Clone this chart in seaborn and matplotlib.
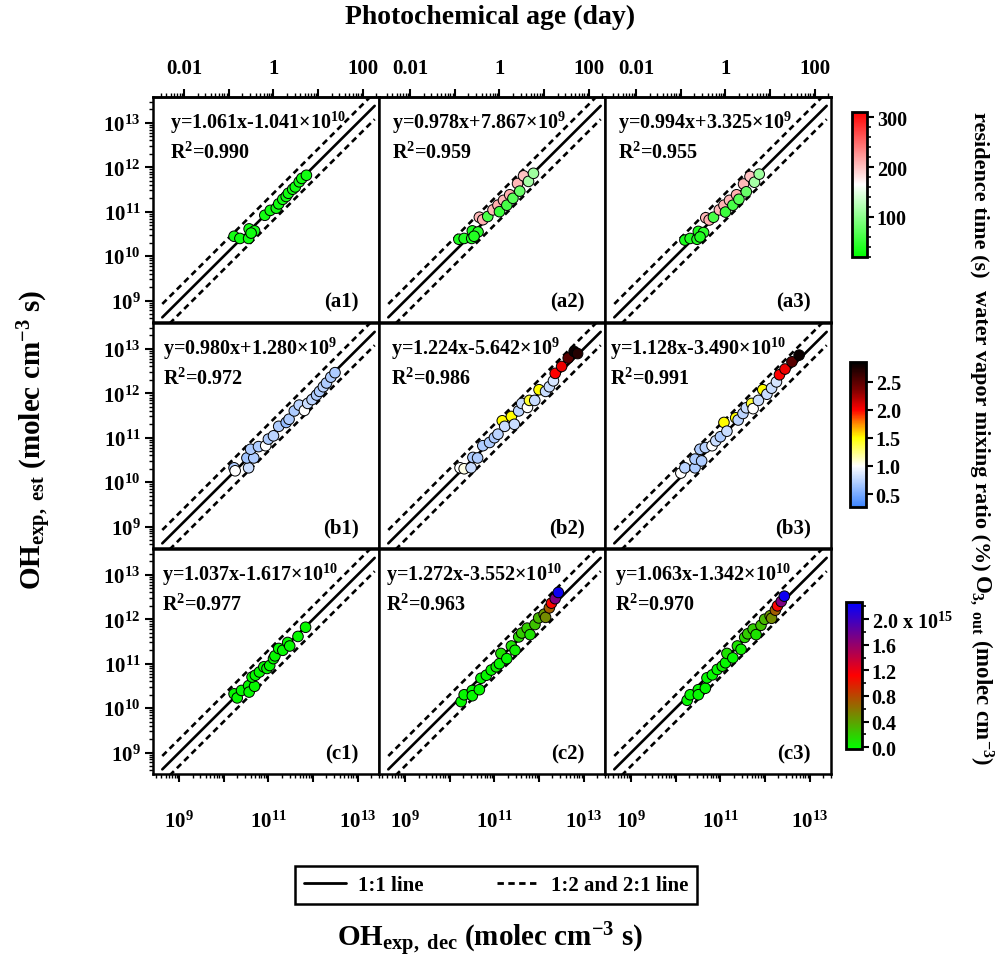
import numpy as np
import matplotlib
matplotlib.use("Agg")
import matplotlib.pyplot as plt
import matplotlib.cm as cm
import seaborn as sns
from matplotlib.colors import LinearSegmentedColormap, Normalize
from matplotlib.lines import Line2D
from matplotlib.ticker import FixedLocator, FixedFormatter, LogLocator, MultipleLocator, NullFormatter

# ---- data (OH exposure in molec cm-3 s) ----
a1_dec = [1.7e10, 2.3e10, 3.6e10, 3.7e10, 4.9e10, 4.1e10, 8.3e10, 1.1e11, 1.5e11, 1.7e11,
          2.1e11, 2.5e11, 2.8e11, 3.5e11, 4.0e11, 4.9e11, 5.6e11, 7.1e11]
a1_est = [2.8e10, 2.5e10, 2.5e10, 4.1e10, 3.7e10, 3.3e10, 8.3e10, 1.07e11, 1.2e11, 1.5e11,
          1.9e11, 2.2e11, 2.6e11, 3.2e11, 3.6e11, 4.7e11, 5.6e11, 6.6e11]
a1_res = [32, 30, 31, 30, 33, 30, 31, 30, 32, 30, 31, 30, 30, 31, 30, 32, 30, 31]

a2_dec = [1.6e10, 2.1e10, 3.1e10, 3.2e10, 4.3e10, 3.5e10, 4.6e10, 5.5e10, 7.1e10, 9.3e10, 1.2e11,
          1.3e11, 1.6e11, 1.9e11, 2.2e11, 2.6e11, 3.3e11, 3.7e11, 4.5e11, 5.8e11, 7.5e11]
a2_est = [2.4e10, 2.5e10, 2.5e10, 3.7e10, 3.5e10, 2.8e10, 7.5e10, 6.6e10, 7.8e10, 1.1e11, 1.4e11,
          1.0e11, 1.8e11, 1.4e11, 2.4e11, 2.0e11, 4.3e11, 2.9e11, 6.4e11, 4.8e11, 7.3e11]
a2_res = [35, 40, 38, 35, 45, 40, 205, 210, 60, 205, 210, 55, 205, 60, 210, 70, 205, 80, 200, 115, 110]

a3_dec = [1.6e10, 2.1e10, 3.0e10, 3.2e10, 4.2e10, 3.5e10, 4.7e10, 5.6e10, 7.0e10, 9.5e10, 1.2e11,
          1.3e11, 1.6e11, 1.9e11, 2.3e11, 2.6e11, 3.3e11, 3.8e11, 4.6e11, 5.8e11, 7.4e11]
a3_est = [2.3e10, 2.5e10, 2.4e10, 3.6e10, 3.4e10, 2.7e10, 7.3e10, 6.5e10, 7.5e10, 1.1e11, 1.4e11,
          9.8e10, 1.8e11, 1.4e11, 2.4e11, 1.9e11, 4.2e11, 2.8e11, 6.2e11, 4.6e11, 7.0e11]
a3_res = [35, 40, 38, 35, 45, 40, 205, 210, 60, 205, 210, 55, 205, 60, 210, 70, 205, 80, 200, 115, 110]

b1_dec = [1.7e10, 1.8e10, 3.6e10, 3.3e10, 4.7e10, 4.0e10, 6.0e10, 8.7e10, 1.0e11, 1.3e11, 1.7e11, 2.5e11,
          2.9e11, 3.8e11, 4.9e11, 6.4e11, 7.6e11, 9.5e11, 1.2e12, 1.4e12, 1.7e12, 2.0e12, 2.5e12, 3.1e12]
b1_est = [2.1e10, 1.8e10, 2.1e10, 3.5e10, 3.5e10, 5.5e10, 6.3e10, 6.6e10, 9.3e10, 1.1e11, 1.8e11, 2.2e11,
          2.6e11, 4.0e11, 5.4e11, 4.1e11, 5.9e11, 7.2e11, 9.1e11, 1.1e12, 1.4e12, 1.7e12, 2.3e12, 2.9e12]
b1_h2o = [0.7, 1.0, 0.8, 0.65, 0.7, 0.7, 0.7, 1.0, 0.7, 0.75, 0.7, 0.6,
          0.7, 0.7, 0.75, 1.0, 0.8, 0.75, 0.7, 0.7, 0.75, 0.7, 0.7, 0.7]

b2_dec = [1.7e10, 2.1e10, 3.0e10, 3.3e10, 4.2e10, 5.5e10, 7.8e10, 1.0e11, 1.2e11, 1.5e11, 1.7e11, 2.4e11,
          2.8e11, 3.5e11, 4.1e11, 5.5e11, 6.1e11, 8.0e11, 1.0e12, 1.4e12, 1.7e12, 2.1e12, 2.3e12, 3.2e12,
          4.5e12, 6.1e12, 7.3e12]
b2_est = [2.1e10, 2.0e10, 2.1e10, 3.6e10, 3.5e10, 6.6e10, 7.8e10, 1.0e11, 1.2e11, 2.4e11, 1.8e11, 3.0e11,
          2.0e11, 4.0e11, 5.9e11, 4.8e11, 6.9e11, 6.9e11, 1.2e12, 1.1e12, 1.4e12, 1.9e12, 2.8e12, 4.0e12,
          6.2e12, 8.7e12, 7.8e12]
b2_h2o = [1.0, 1.05, 0.8, 0.7, 0.7, 0.7, 0.7, 0.7, 0.75, 1.5, 0.8, 1.5,
          0.8, 0.75, 0.8, 1.0, 1.4, 0.8, 1.5, 0.8, 0.8, 0.85, 2.0, 2.05,
          2.5, 2.8, 2.7]

b3_dec = [1.3e10, 1.6e10, 2.7e10, 2.7e10, 3.8e10, 3.5e10, 4.6e10, 6.5e10, 7.9e10, 1.0e11, 1.2e11, 1.4e11,
          2.2e11, 2.5e11, 3.2e11, 3.8e11, 5.0e11, 5.4e11, 7.1e11, 8.9e11, 1.1e12, 1.4e12, 1.8e12, 2.1e12,
          2.8e12, 4.0e12, 5.8e12]
b3_est = [1.6e10, 2.1e10, 2.1e10, 3.3e10, 3.0e10, 5.5e10, 6.0e10, 6.6e10, 8.5e10, 1.05e11, 2.2e11, 1.4e11,
          2.8e11, 2.5e11, 3.5e11, 4.7e11, 5.9e11, 4.5e11, 6.9e11, 1.2e12, 9.5e11, 1.3e12, 1.8e12, 2.6e12,
          3.5e12, 5.1e12, 7.2e12]
b3_h2o = [1.0, 0.75, 0.7, 0.7, 0.7, 0.7, 0.75, 1.0, 0.8, 0.7, 1.5, 0.8,
          1.5, 0.75, 0.75, 0.8, 1.4, 1.0, 0.8, 1.5, 0.8, 0.8, 0.85, 2.0,
          2.05, 2.5, 2.8]

c1_dec = [1.7e10, 2.0e10, 2.5e10, 3.6e10, 3.7e10, 4.9e10, 4.3e10, 5.1e10, 6.3e10, 7.9e10,
          9.3e10, 1.07e11, 1.3e11, 1.4e11, 1.7e11, 2.1e11, 2.7e11, 3.0e11, 4.6e11, 6.8e11]
c1_est = [2.1e10, 1.7e10, 2.5e10, 3.2e10, 2.3e10, 3.1e10, 5.0e10, 5.5e10, 6.5e10, 8.5e10,
          7.8e10, 9.1e10, 1.3e11, 1.5e11, 2.2e11, 2.0e11, 3.0e11, 2.5e11, 4.1e11, 6.6e11]
c1_o3 = [0.0, 0.0, 0.0, 0.0, 0.0, 0.0, 0.0, 0.0, 0.0, 0.0,
         0.0, 0.0, 0.0, 0.0, 0.0, 0.0, 0.0, 0.0, 0.0, 0.0]

c2_dec = [1.8e10, 2.1e10, 3.2e10, 3.2e10, 4.6e10, 5.0e10, 6.6e10, 8.5e10, 1.1e11, 1.3e11, 1.4e11, 1.9e11, 2.4e11,
          2.9e11, 3.5e11, 4.1e11, 5.4e11, 6.3e11, 8.1e11, 9.8e11, 1.3e12, 1.4e12, 1.7e12, 1.9e12, 2.3e12, 2.7e12]
c2_est = [1.4e10, 2.0e10, 2.5e10, 1.9e10, 2.6e10, 4.7e10, 5.5e10, 7.2e10, 8.5e10, 1.0e11, 1.7e11, 1.3e11, 2.5e11,
          2.0e11, 4.0e11, 4.9e11, 6.3e11, 4.5e11, 7.6e11, 1.07e12, 1.3e12, 1.1e12, 1.8e12, 2.3e12, 2.9e12, 4.0e12]
c2_o3 = [0.0, 0.0, 0.0, 0.0, 0.0, 0.0, 0.0, 0.0, 0.05, 0.0, 0.1, 0.0, 0.1,
         0.05, 0.15, 0.2, 0.2, 0.1, 0.25, 0.3, 0.45, 0.5, 0.7, 1.1, 1.7, 2.2]

c3_dec = [1.8e10, 2.1e10, 3.2e10, 3.2e10, 4.6e10, 5.0e10, 6.6e10, 8.5e10, 1.1e11, 1.3e11, 1.4e11, 1.9e11, 2.4e11,
          2.9e11, 3.5e11, 4.1e11, 5.4e11, 6.3e11, 8.1e11, 9.8e11, 1.3e12, 1.4e12, 1.7e12, 1.9e12, 2.3e12, 2.7e12]
c3_est = [1.5e10, 2.0e10, 2.6e10, 2.0e10, 2.8e10, 4.8e10, 5.6e10, 7.4e10, 8.8e10, 1.05e11, 1.7e11, 1.35e11, 2.5e11,
          2.1e11, 3.9e11, 4.7e11, 6.0e11, 4.5e11, 7.3e11, 1.0e12, 1.2e12, 1.05e12, 1.6e12, 2.0e12, 2.5e12, 3.3e12]
c3_o3 = [0.0, 0.0, 0.0, 0.0, 0.0, 0.0, 0.0, 0.0, 0.05, 0.0, 0.1, 0.0, 0.1,
         0.05, 0.15, 0.2, 0.2, 0.1, 0.25, 0.3, 0.45, 0.5, 0.7, 1.1, 1.7, 2.2]

fit_text = {
    'a1': ('y=1.061x-1.041×10$^{10}$', 'R$^{2}$=0.990'),
    'a2': ('y=0.978x+7.867×10$^{9}$', 'R$^{2}$=0.959'),
    'a3': ('y=0.994x+3.325×10$^{9}$', 'R$^{2}$=0.955'),
    'b1': ('y=0.980x+1.280×10$^{9}$', 'R$^{2}$=0.972'),
    'b2': ('y=1.224x-5.642×10$^{9}$', 'R$^{2}$=0.986'),
    'b3': ('y=1.128x-3.490×10$^{10}$', 'R$^{2}$=0.991'),
    'c1': ('y=1.037x-1.617×10$^{10}$', 'R$^{2}$=0.977'),
    'c2': ('y=1.272x-3.552×10$^{10}$', 'R$^{2}$=0.963'),
    'c3': ('y=1.063x-1.342×10$^{10}$', 'R$^{2}$=0.970'),
}

oh_ticks = [1e9, 1e10, 1e11, 1e12, 1e13]
oh_ticklabels_x = ['10$^{9}$', '', '10$^{11}$', '', '10$^{13}$']
oh_ticklabels_y = ['10$^{9}$', '10$^{10}$', '10$^{11}$', '10$^{12}$', '10$^{13}$']
age_ticks = [0.01, 0.1, 1, 10, 100]
age_ticklabels = ['0.01', '', '1', '', '100']
ref_line_x = np.array([4.2e8, 2.4e13])
x_lim = (2.6e8, 3.0e13)
y_lim = (3.3e8, 3.8e13)
oh_per_day = 1.5e6 * 86400  # [OH] = 1.5e6 molec cm-3

res_ticks = [100, 200, 300]
h2o_ticks = [0.5, 1.0, 1.5, 2.0, 2.5]
o3_ticks = [0.0, 0.4, 0.8, 1.2, 1.6, 2.0]
o3_ticklabels = ['0.0', '0.4', '0.8', '1.2', '1.6', '2.0 x 10$^{15}$']

# ---- style ----
sns.set_style("ticks")
plt.rcParams['font.family'] = ['Liberation Serif', 'DejaVu Serif']
plt.rcParams['font.weight'] = 'bold'
plt.rcParams['mathtext.fontset'] = 'custom'
plt.rcParams['mathtext.rm'] = 'Liberation Serif:bold'
plt.rcParams['mathtext.it'] = 'Liberation Serif:italic:bold'
plt.rcParams['mathtext.bf'] = 'Liberation Serif:bold'
plt.rcParams['mathtext.default'] = 'rm'
for k in ['text.color', 'axes.labelcolor', 'xtick.color', 'ytick.color', 'axes.edgecolor']:
    plt.rcParams[k] = 'black'

cmap_res = LinearSegmentedColormap.from_list('res', ['#00ff00', '#ffffff', '#ff0000'])
cmap_h2o = LinearSegmentedColormap.from_list('h2o', [(0.0, '#3d85ff'), (0.283, '#ffffff'), (0.477, '#ffff00'),
                                                      (0.574, '#ff8c00'), (0.67, '#ff0000'),
                                                      (0.806, '#800000'), (1.0, '#000000')])
cmap_o3 = LinearSegmentedColormap.from_list('o3', ['#00ff00', '#ff0000', '#0000ff'])
norm_res = Normalize(20, 310)
norm_h2o = Normalize(0.27, 2.85)
norm_o3 = Normalize(-0.03, 2.27)

rows = [
    [(a1_dec, a1_est, a1_res), (a2_dec, a2_est, a2_res), (a3_dec, a3_est, a3_res)],
    [(b1_dec, b1_est, b1_h2o), (b2_dec, b2_est, b2_h2o), (b3_dec, b3_est, b3_h2o)],
    [(c1_dec, c1_est, c1_o3), (c2_dec, c2_est, c2_o3), (c3_dec, c3_est, c3_o3)],
]
row_cmaps = [(cmap_res, norm_res), (cmap_h2o, norm_h2o), (cmap_o3, norm_o3)]
row_names = ['a', 'b', 'c']
text_x = {'a1': 0.075, 'a2': 0.058, 'a3': 0.058, 'b1': 0.045, 'b2': 0.055, 'b3': 0.02,
          'c1': 0.04, 'c2': 0.03, 'c3': 0.045}

W, H = 1008, 962
fig = plt.figure(figsize=(W / 100, H / 100), dpi=100)
col_left = [153, 379, 605]
row_top = [98, 324, 550]
pw, ph = 226, 225
spine_w = 1.8
dash = (0, (2.3, 1.6))

for r in range(3):
    cmap, norm = row_cmaps[r]
    for c in range(3):
        dec, est, val = rows[r][c]
        ax = fig.add_axes([col_left[c] / W, 1 - (row_top[r] + ph) / H, pw / W, ph / H])
        ax.set_xscale('log')
        ax.set_yscale('log')
        ax.plot(ref_line_x, ref_line_x, color='black', lw=1.9, zorder=2)
        ax.plot(ref_line_x, 2 * ref_line_x, color='black', lw=1.9, ls=dash, zorder=2)
        ax.plot(ref_line_x, 0.5 * ref_line_x, color='black', lw=1.9, ls=dash, zorder=2)
        sns.scatterplot(x=dec, y=est, hue=val, palette=cmap, hue_norm=norm, s=58,
                        edgecolor='black', linewidth=0.7, legend=False, ax=ax, zorder=3)
        ax.set_xlim(x_lim)
        ax.set_ylim(y_lim)
        ax.set_xlabel('')
        ax.set_ylabel('')
        for sp in ax.spines.values():
            sp.set_linewidth(spine_w)
            sp.set_visible(True)

        for axis in (ax.xaxis, ax.yaxis):
            axis.set_major_locator(FixedLocator(oh_ticks))
            axis.set_minor_locator(LogLocator(base=10, subs=np.arange(2, 10), numticks=20))
            axis.set_minor_formatter(NullFormatter())
        ax.xaxis.set_major_formatter(FixedFormatter(oh_ticklabels_x))
        ax.yaxis.set_major_formatter(FixedFormatter(oh_ticklabels_y))
        ax.tick_params(which='major', direction='out', length=6, width=1.5, labelsize=15, pad=3)
        ax.tick_params(which='minor', direction='out', length=3, width=1.0)
        ax.tick_params(which='both', left=(c == 0), labelleft=(c == 0),
                       bottom=(r == 2), labelbottom=(r == 2), top=False, right=False)
        ax.tick_params(axis='x', which='major', pad=20)

        if r == 0:
            sec = ax.secondary_xaxis('top', functions=(lambda x: x / oh_per_day, lambda d: d * oh_per_day))
            sec.xaxis.set_major_locator(FixedLocator(age_ticks))
            sec.xaxis.set_major_formatter(FixedFormatter(age_ticklabels))
            sec.xaxis.set_minor_locator(LogLocator(base=10, subs=np.arange(2, 10), numticks=20))
            sec.xaxis.set_minor_formatter(NullFormatter())
            sec.tick_params(which='major', direction='out', length=6, width=1.5, labelsize=15, pad=8)
            sec.tick_params(which='minor', direction='out', length=3, width=1.0)
            for sp in sec.spines.values():
                sp.set_linewidth(spine_w)

        key = f'{row_names[r]}{c + 1}'
        eq, r2 = fit_text[key]
        ax.text(text_x[key], 0.89, eq, transform=ax.transAxes, fontsize=14.5, fontweight='bold',
                ha='left', va='center')
        ax.text(text_x[key], 0.755, r2, transform=ax.transAxes, fontsize=14.5, fontweight='bold',
                ha='left', va='center')
        ax.text(0.91, 0.093, f'({key})', transform=ax.transAxes, fontsize=15, fontweight='bold',
                ha='right', va='center')


# ---- colorbars ----
def add_cbar(rect_px, cmap, norm, ticks, ticklabels=None, minor=None):
    x0, y0, x1, y1 = rect_px
    cax = fig.add_axes([x0 / W, 1 - y1 / H, (x1 - x0) / W, (y1 - y0) / H])
    cb = fig.colorbar(cm.ScalarMappable(norm=norm, cmap=cmap), cax=cax)
    cb.set_ticks(ticks)
    if ticklabels is not None:
        cb.set_ticklabels(ticklabels)
    if minor is not None:
        cb.ax.yaxis.set_minor_locator(MultipleLocator(minor))
    else:
        cb.ax.yaxis.set_minor_locator(FixedLocator([]))
    cb.outline.set_linewidth(2.0)
    cb.ax.tick_params(which='major', length=5, width=1.5, labelsize=14.5, pad=2)
    cb.ax.tick_params(which='minor', length=3, width=1.2)
    return cb


add_cbar((852, 113, 867, 258), cmap_res, norm_res, res_ticks, minor=20)
add_cbar((850, 363, 866, 508), cmap_h2o, norm_h2o, h2o_ticks, ticklabels=['0.5', '1.0', '1.5', '2.0', '2.5'])
add_cbar((846, 603, 862, 750), cmap_o3, norm_o3, o3_ticks, ticklabels=o3_ticklabels, minor=0.2)

fig.text(980 / W, 1 - 195 / H, 'residence time (s)', rotation=270, ha='center', va='center',
         fontsize=16, fontweight='bold')
fig.text(980 / W, 1 - 430 / H, 'water vapor mixing ratio (%)', rotation=270, ha='center', va='center',
         fontsize=16, fontweight='bold')
fig.text(982 / W, 1 - 670 / H, 'O$_{3,\\ out}$ (molec cm$^{-3}$)', rotation=270, ha='center', va='center',
         fontsize=16.5, fontweight='bold')

# ---- axis titles ----
fig.text(490 / W, 1 - 17 / H, 'Photochemical age (day)', ha='center', va='center', fontsize=20,
         fontweight='bold')
fig.text(490 / W, 1 - 940 / H, 'OH$_{\\mathrm{exp,\\ dec}}$ (molec cm$^{-3}$ s)', ha='center', va='center',
         fontsize=21, fontweight='bold')
fig.text(35 / W, 1 - 440 / H, 'OH$_{\\mathrm{exp,\\ est}}$ (molec cm$^{-3}$ s)', ha='center', va='center',
         rotation=90, fontsize=21, fontweight='bold')

# ---- legend ----
handles = [Line2D([0], [0], color='black', lw=2.0),
           Line2D([0], [0], color='black', lw=2.0, ls=dash)]
leg = fig.legend(handles, ['1:1 line', '1:2 and 2:1 line'], ncol=2, loc='center',
                 bbox_to_anchor=(496 / W, 1 - 886 / H), fontsize=15, frameon=True, fancybox=False,
                 edgecolor='black', framealpha=1, handlelength=2.0, columnspacing=3.5,
                 borderpad=0.45, handletextpad=0.6)
leg.get_frame().set_linewidth(1.8)

fig.savefig('out.png', dpi=100)
